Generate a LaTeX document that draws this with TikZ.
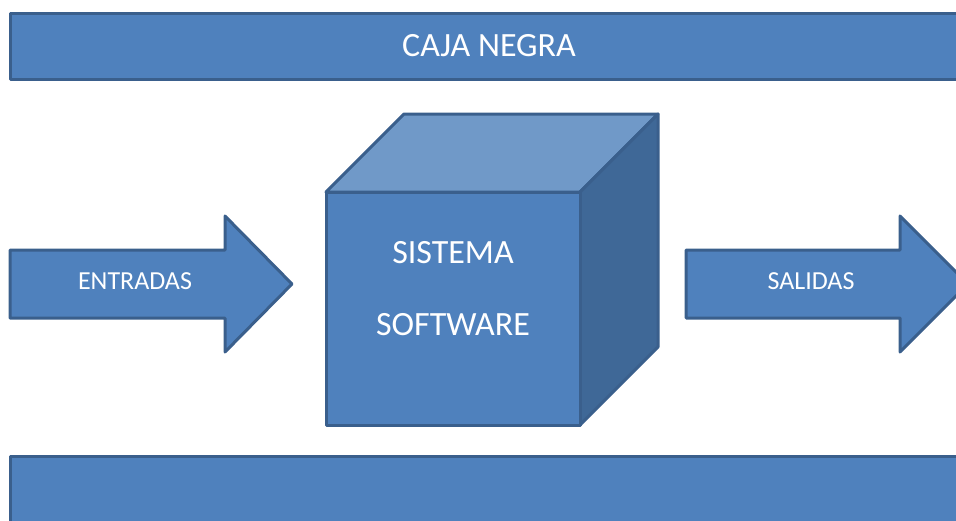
\documentclass[tikz,border=0pt]{standalone}
\usepackage{fontspec}
\setmainfont{Carlito}
\definecolor{fillblue}{HTML}{4F81BD}
\definecolor{edgeblue}{HTML}{3A5F8C}
\definecolor{topblue}{HTML}{7099C8}
\definecolor{sideblue}{HTML}{3F6897}
\tikzset{
  shape3d/.style={draw=edgeblue, line width=3pt, line join=round, fill=fillblue},
  bigtext/.style={text=white, font=\fontsize{34}{40}\selectfont, inner sep=0pt},
  smalltext/.style={text=white, font=\fontsize{26}{30}\selectfont, inner sep=0pt}
}
\begin{document}
\begin{tikzpicture}[x=1pt,y=-1pt]
\useasboundingbox (0,0) rectangle (956,520);
\clip (0,0) rectangle (956,520);
% bars
\draw[shape3d] (10,13) rectangle (975,79);
\draw[shape3d] (10,456) rectangle (975,540);
\node[bigtext] (caja) at (489,46) {CAJA NEGRA};
% input arrow
\draw[shape3d] (10,250) -- (225,250) -- (225,216) -- (292,284) -- (225,352) -- (225,318) -- (10,318) -- cycle;
\node[smalltext] (entradas) at (135,281) {ENTRADAS};
% output arrow
\draw[shape3d] (686,250) -- (900,250) -- (900,216) -- (968,284) -- (900,352) -- (900,318) -- (686,318) -- cycle;
\node[smalltext] (salidas) at (811,281) {SALIDAS};
% cube
\draw[shape3d, fill=topblue] (326,192) -- (404,114) -- (658,114) -- (580,192) -- cycle;
\draw[shape3d, fill=sideblue] (580,192) -- (658,114) -- (658,347) -- (580,425) -- cycle;
\draw[shape3d] (326,192) rectangle (580,425);
\node[bigtext] (sistema) at (453,253) {SISTEMA};
\node[bigtext] (software) at (453,325) {SOFTWARE};
\end{tikzpicture}
\end{document}
